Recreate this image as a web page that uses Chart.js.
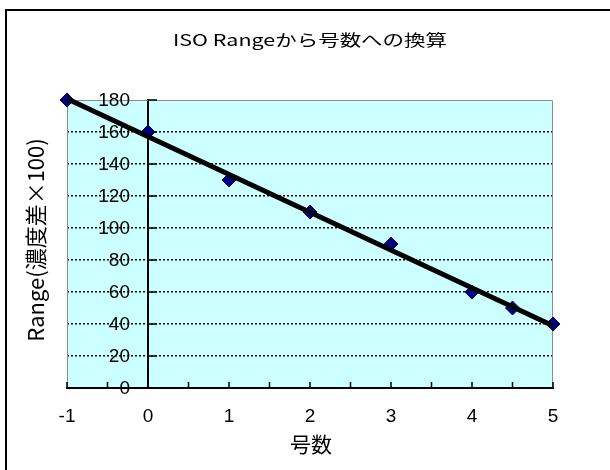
<!DOCTYPE html>
<html>
<head>
<meta charset="utf-8">
<script src="https://cdn.jsdelivr.net/npm/chart.js@4"></script>
<style>
  html, body { margin: 0; padding: 0; background: #fff; }
  canvas { display: block; }
</style>
</head>
<body>
<canvas id="c" width="610" height="470"></canvas>
<script>
// Texts
const chartTitle = 'ISO Rangeから号数への換算';
const xAxisTitle = '号数';
const yAxisTitle = 'Range(濃度差×100)';

// Measured points: 号数 vs ISO Range (density difference x100)
const gouValues = [-1, 0, 1, 2, 3, 4, 4.5, 5];
const rangeValues = [180, 160, 130, 110, 90, 60, 50, 40];

// Axis ticks
const xTickValues = [-1, -0.5, 0, 0.5, 1, 1.5, 2, 2.5, 3, 3.5, 4, 4.5, 5];
const xTickLabels = ['-1', '', '0', '', '1', '', '2', '', '3', '', '4', '', '5'];
const yTickValues = [0, 20, 40, 60, 80, 100, 120, 140, 160, 180];
const yTickLabels = ['0', '20', '40', '60', '80', '100', '120', '140', '160', '180'];

// Least-squares linear trendline through the points
function linearFit(xs, ys) {
  const n = xs.length;
  const mx = xs.reduce((s, v) => s + v, 0) / n;
  const my = ys.reduce((s, v) => s + v, 0) / n;
  let sxy = 0, sxx = 0;
  for (let i = 0; i < n; i++) {
    sxy += (xs[i] - mx) * (ys[i] - my);
    sxx += (xs[i] - mx) * (xs[i] - mx);
  }
  const slope = sxy / sxx;
  return { slope, intercept: my - slope * mx };
}
const fit = linearFit(gouValues, rangeValues);
const xMin = Math.min(...gouValues), xMax = Math.max(...gouValues);
const trendPoints = [xMin, xMax].map(x => ({ x, y: fit.intercept + fit.slope * x }));

const tickFontFamily = '"Liberation Sans", Arial, sans-serif';
const tickFont = { family: tickFontFamily, size: 19 };
const jpFont = '"Noto Sans CJK JP", "Liberation Sans", sans-serif';

const framePlugin = {
  id: 'frame',
  beforeDraw(chart) {
    const { ctx, chartArea: a } = chart;
    ctx.save();
    ctx.fillStyle = '#ffffff';
    ctx.fillRect(0, 0, chart.width, chart.height);
    // outer chart border
    ctx.strokeStyle = '#000';
    ctx.lineWidth = 2;
    ctx.strokeRect(6, 10, chart.width + 20, chart.height + 20);
    // plot area fill
    ctx.fillStyle = '#ccffff';
    ctx.fillRect(a.left, a.top, a.right - a.left, a.bottom - a.top);
    ctx.restore();
  },
  beforeDatasetsDraw(chart) {
    const { ctx, chartArea: a, scales: { x, y } } = chart;
    ctx.save();
    // plot area frame (top, left, right)
    ctx.strokeStyle = '#8c8c8c';
    ctx.lineWidth = 1;
    ctx.beginPath();
    ctx.moveTo(a.left + 0.5, a.bottom);
    ctx.lineTo(a.left + 0.5, a.top + 0.5);
    ctx.lineTo(a.right - 0.5, a.top + 0.5);
    ctx.lineTo(a.right - 0.5, a.bottom);
    ctx.stroke();
    // inward tick marks
    ctx.strokeStyle = '#000';
    ctx.lineWidth = 1.5;
    ctx.beginPath();
    x.ticks.forEach(t => {
      const px = x.getPixelForValue(t.value);
      ctx.moveTo(px, a.bottom);
      ctx.lineTo(px, a.bottom - 6);
    });
    const x0 = x.getPixelForValue(0);
    y.ticks.forEach(t => {
      const py = y.getPixelForValue(t.value);
      ctx.moveTo(x0, py);
      ctx.lineTo(x0 + 9, py);
    });
    ctx.stroke();
    // value labels of the y axis, left of the axis line at x = 0
    ctx.fillStyle = '#000';
    ctx.font = tickFont.size + 'px ' + tickFontFamily;
    ctx.textAlign = 'right';
    ctx.textBaseline = 'middle';
    y.ticks.forEach((t, i) => {
      ctx.fillText(yTickLabels[i], x0 - 18, y.getPixelForValue(t.value) + 1);
    });
    ctx.restore();
  },
  afterDraw(chart) {
    const { ctx } = chart;
    ctx.save();
    ctx.fillStyle = '#000';
    ctx.textAlign = 'center';
    ctx.textBaseline = 'middle';
    // chart title (wide face)
    ctx.font = '16px ' + jpFont;
    const w = ctx.measureText(chartTitle).width;
    ctx.save();
    ctx.translate(310, 40);
    ctx.scale(274 / w, 1);
    ctx.fillText(chartTitle, 0, 0);
    ctx.restore();
    // x axis title
    ctx.font = '21px ' + jpFont;
    ctx.fillText(xAxisTitle, 311, 444);
    // y axis title
    ctx.font = '22px ' + jpFont;
    ctx.save();
    ctx.translate(36, 240);
    ctx.rotate(-Math.PI / 2);
    ctx.fillText(yAxisTitle, 0, 0);
    ctx.restore();
    ctx.restore();
  }
};

new Chart(document.getElementById('c'), {
  type: 'scatter',
  data: {
    datasets: [
      {
        type: 'line',
        label: 'trend',
        data: trendPoints,
        borderColor: '#000',
        borderWidth: 5,
        pointRadius: 0,
        fill: false,
        clip: false,
        order: 0
      },
      {
        label: 'Range',
        data: gouValues.map((x, i) => ({ x, y: rangeValues[i] })),
        pointStyle: 'rectRot',
        pointRadius: 7,
        backgroundColor: '#000080',
        borderColor: '#000080',
        borderWidth: 1,
        clip: false,
        order: 1
      }
    ]
  },
  options: {
    responsive: false,
    devicePixelRatio: 1,
    animation: false,
    layout: { padding: { left: 67, right: 57, top: 100, bottom: 0 } },
    plugins: { legend: { display: false }, tooltip: { enabled: false }, title: { display: false } },
    scales: {
      x: {
        type: 'linear',
        position: 'bottom',
        min: -1,
        max: 5,
        afterBuildTicks: s => { s.ticks = xTickValues.map(v => ({ value: v })); },
        afterFit: s => { s.height = 82; },
        ticks: {
          autoSkip: false,
          maxRotation: 0,
          padding: 17,
          color: '#000',
          font: tickFont,
          callback: (v, i) => xTickLabels[i]
        },
        grid: { drawOnChartArea: false, drawTicks: false },
        border: { display: true, color: '#000', width: 2 }
      },
      y: {
        type: 'linear',
        position: { x: 0 },
        min: 0,
        max: 180,
        afterBuildTicks: s => { s.ticks = yTickValues.map(v => ({ value: v })); },
        ticks: { display: false },
        grid: {
          drawTicks: false,
          lineWidth: 1.5,
          color: c => (c.tick && (c.tick.value === 0 || c.tick.value === 180)) ? 'rgba(0,0,0,0)' : '#000'
        },
        border: { display: true, color: '#000', width: 2, dash: [2, 2] }
      }
    }
  },
  plugins: [framePlugin]
});
</script>
</body>
</html>
